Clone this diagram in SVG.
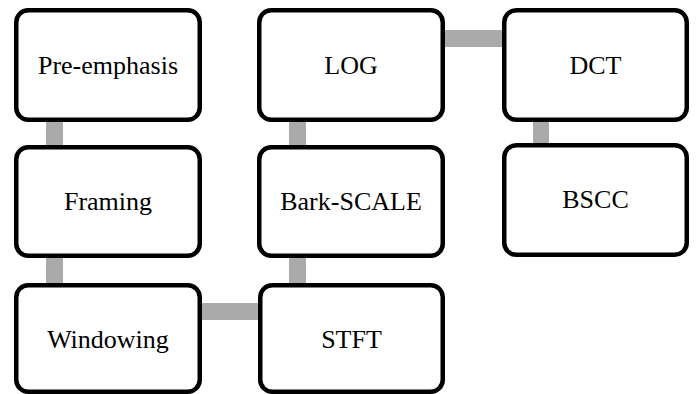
<svg xmlns="http://www.w3.org/2000/svg" width="699" height="394" viewBox="0 0 699 394">
  <style>
    .link { fill: #aaaaaa; }
    .box { fill: #ffffff; stroke: #000000; stroke-width: 4.5; }
    .label { font-family: "Liberation Serif", "Times New Roman", serif; font-size: 26px; fill: #000000; text-anchor: middle; }
  </style>
  <rect width="699" height="394" fill="#ffffff"/>
  <!-- connectors drawn first so the boxes cover their ends -->
  <g id="connectors">
    <rect class="link" x="46" y="118" width="17" height="30"/>
    <rect class="link" x="46" y="255" width="17" height="32"/>
    <rect class="link" x="198" y="303" width="63" height="17"/>
    <rect class="link" x="289" y="255" width="17" height="32"/>
    <rect class="link" x="289" y="118" width="17" height="30"/>
    <rect class="link" x="443" y="30" width="62" height="17"/>
    <rect class="link" x="533" y="118" width="16" height="28"/>
  </g>
  <g id="pre-emphasis">
    <rect class="box" x="16.25" y="10.25" width="183.5" height="109.5" rx="12"/>
    <text class="label" x="108" y="74">Pre-emphasis</text>
  </g>
  <g id="framing">
    <rect class="box" x="16.25" y="147.25" width="183.5" height="108.5" rx="12"/>
    <text class="label" x="108" y="210">Framing</text>
  </g>
  <g id="windowing">
    <rect class="box" x="16.25" y="285.25" width="183.5" height="106.5" rx="12"/>
    <text class="label" x="108" y="348">Windowing</text>
  </g>
  <g id="stft">
    <rect class="box" x="260.25" y="285.25" width="182.5" height="106.5" rx="12"/>
    <text class="label" x="351.5" y="348">STFT</text>
  </g>
  <g id="bark-scale">
    <rect class="box" x="259.25" y="147.25" width="183.5" height="108.5" rx="12"/>
    <text class="label" x="351" y="210">Bark-SCALE</text>
  </g>
  <g id="log">
    <rect class="box" x="259.25" y="10.25" width="183.5" height="109.5" rx="12"/>
    <text class="label" x="351" y="74">LOG</text>
  </g>
  <g id="dct">
    <rect class="box" x="504.25" y="10.25" width="182.5" height="109.5" rx="12"/>
    <text class="label" x="595.5" y="74">DCT</text>
  </g>
  <g id="bscc">
    <rect class="box" x="504.25" y="145.25" width="182.5" height="109.5" rx="12"/>
    <text class="label" x="595.5" y="208">BSCC</text>
  </g>
</svg>
